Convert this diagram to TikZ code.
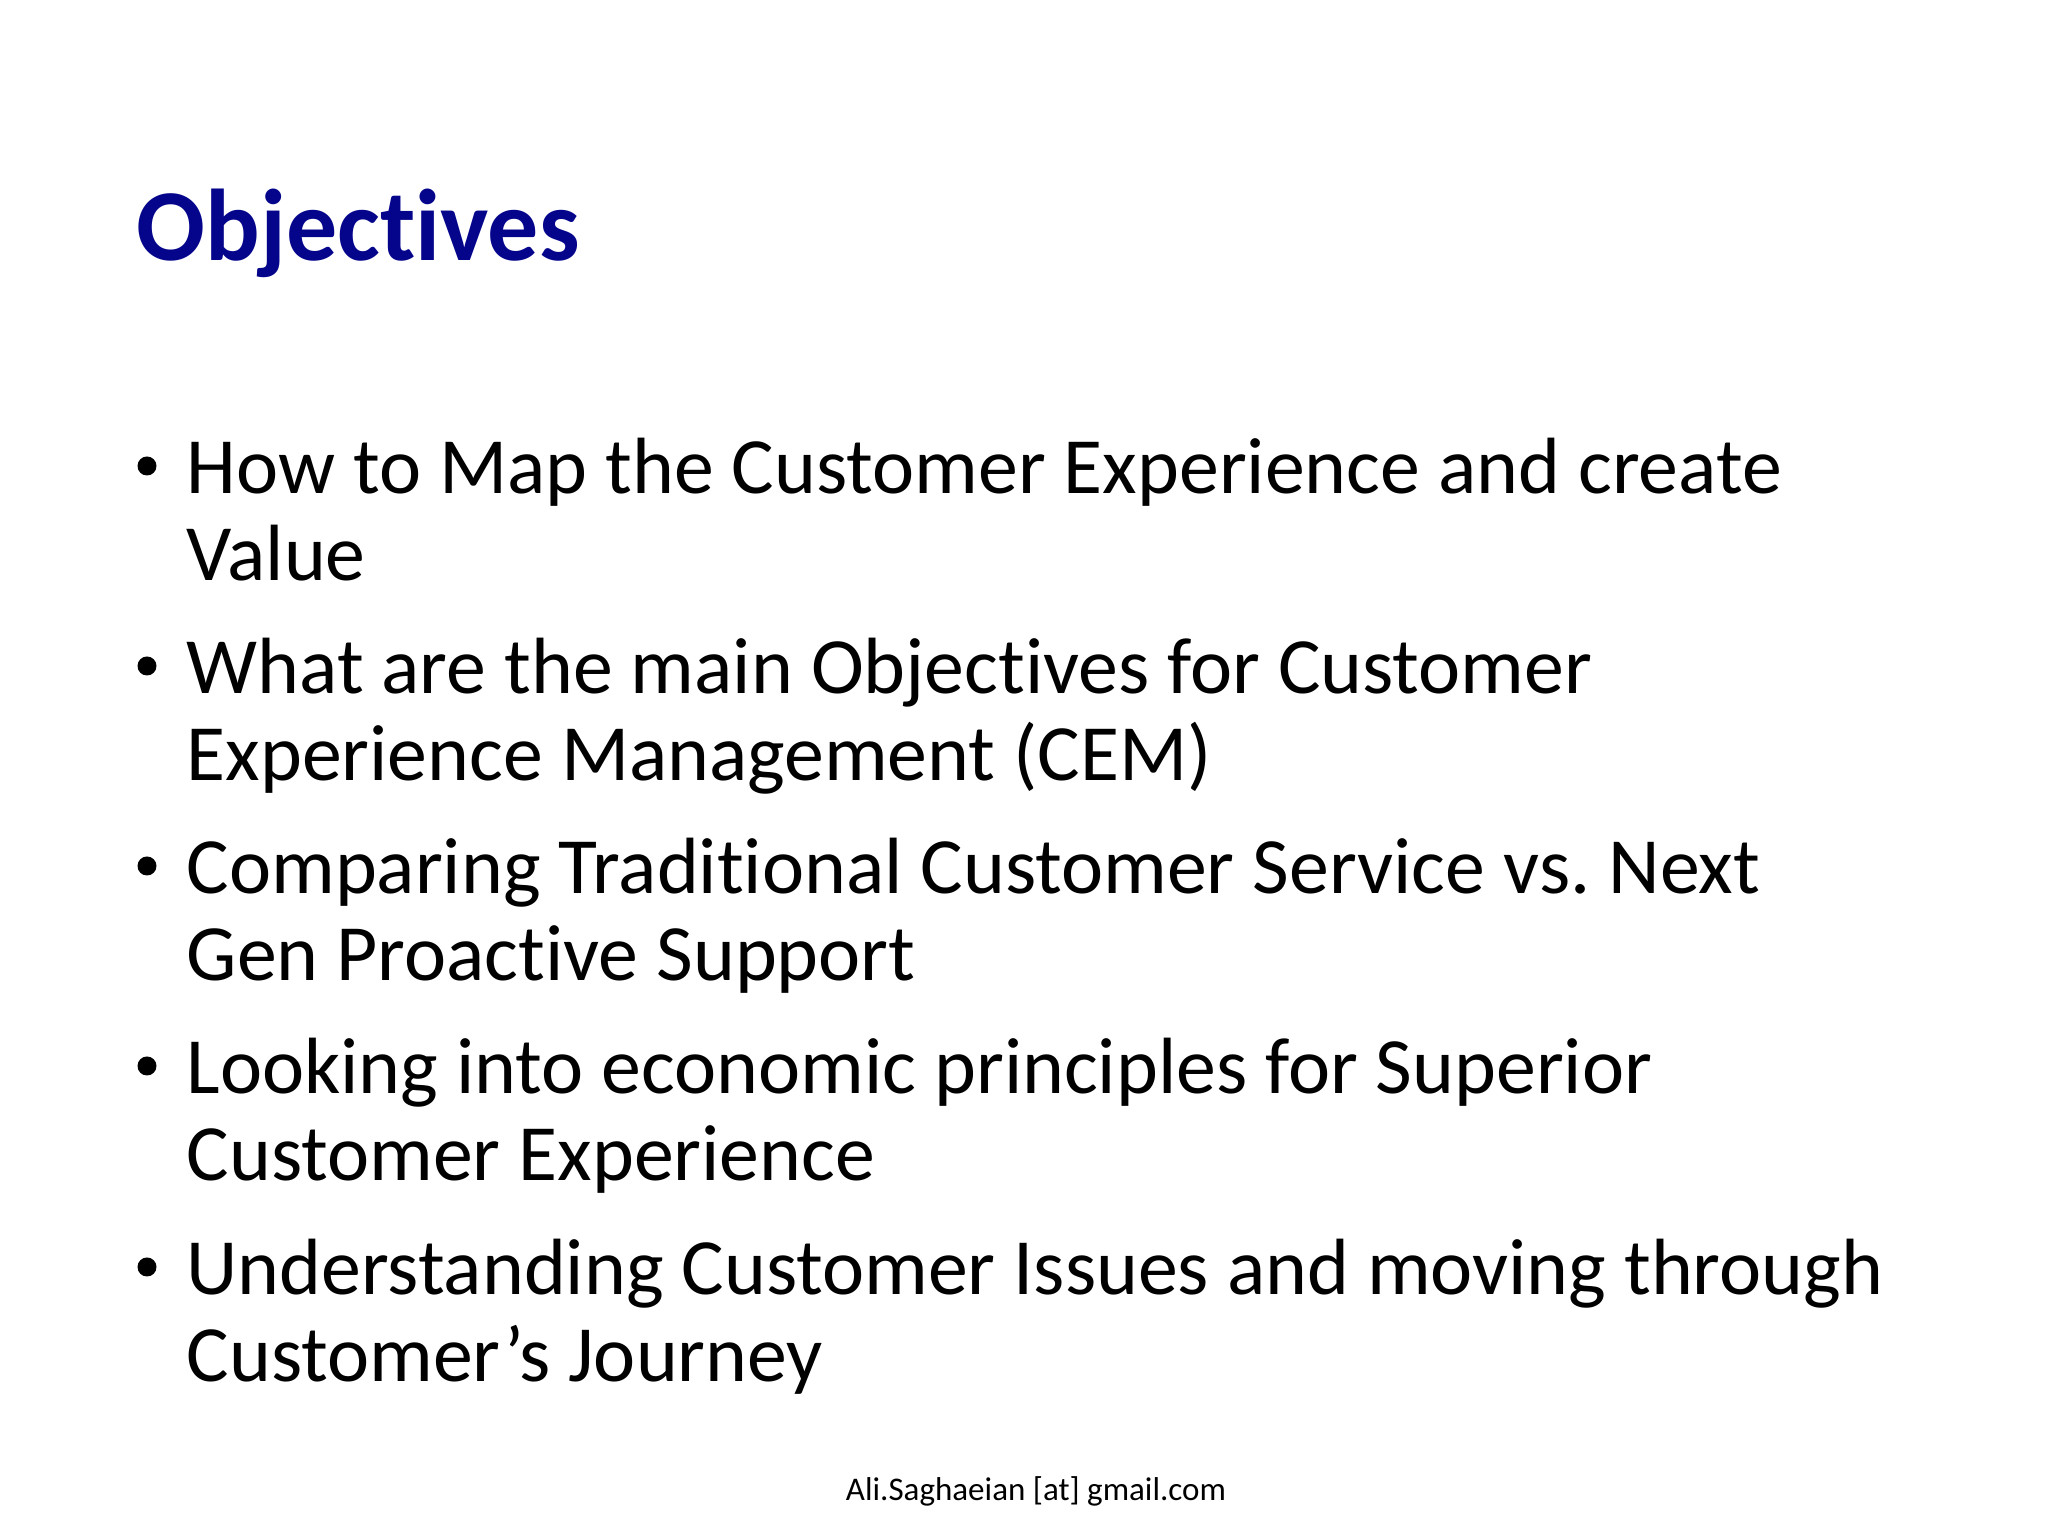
\documentclass[tikz,border=0pt]{standalone}
\usepackage{fontspec}
\setmainfont{Carlito}[Ligatures={NoCommon}]
\frenchspacing
\definecolor{titleblue}{RGB}{5,5,140}
\tikzset{
  titletext/.style={anchor=base west, inner sep=0pt, text=titleblue, font=\fontsize{29}{32}\selectfont\bfseries},
  itemtext/.style={anchor=base west, inner sep=0pt, align=left, font=\fontsize{22.7}{24.75}\selectfont},
  itemdot/.style={circle, fill=black, inner sep=0pt, minimum size=0.19cm},
  foottext/.style={anchor=base, inner sep=0pt, font=\fontsize{9.4}{11}\selectfont}
}
\begin{document}
\begin{tikzpicture}
\useasboundingbox (0,0) rectangle (20.48,15.36);

\node[titletext] (T) at (1.36,12.75) {Objectives};

% base anchor sits on the second line
\node[itemtext] (I1) at (1.86,9.55) {How to Map the Customer Experience and create\\Value};
\node[itemtext] (I2) at (1.86,7.55) {What are the main Objectives for Customer\\Experience Management (CEM)};
\node[itemtext] (I3) at (1.86,5.55) {Comparing Traditional Customer Service vs. Next\\Gen Proactive Support};
\node[itemtext] (I4) at (1.86,3.55) {Looking into economic principles for Superior\\Customer Experience};
\node[itemtext] (I5) at (1.86,1.54) {Understanding Customer Issues and moving through\\Customer’s Journey};

\node[itemdot] (D1) at (1.47,10.70) {};
\node[itemdot] (D2) at (1.47,8.70) {};
\node[itemdot] (D3) at (1.47,6.70) {};
\node[itemdot] (D4) at (1.47,4.70) {};
\node[itemdot] (D5) at (1.47,2.69) {};

\node[foottext] (F) at (10.36,0.35) {Ali.Saghaeian [at] gmail.com};
\end{tikzpicture}
\end{document}
